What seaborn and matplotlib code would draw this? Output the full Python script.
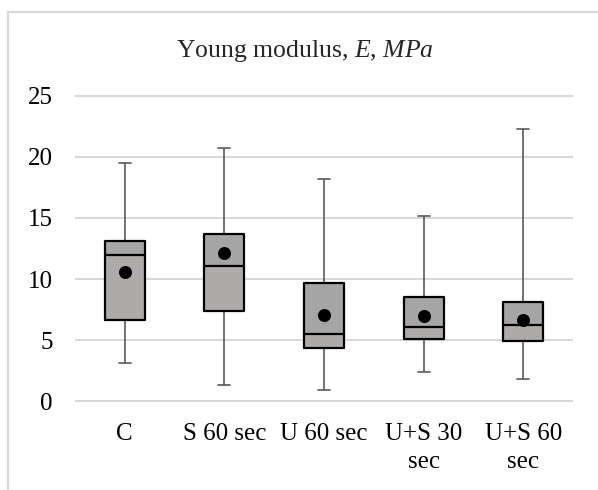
import numpy as np
import pandas as pd
import seaborn as sns
import matplotlib
matplotlib.use("Agg")
import matplotlib.pyplot as plt
from matplotlib.patches import Rectangle

categories = ["C", "S 60 sec", "U 60 sec", "U+S 30 sec", "U+S 60 sec"]
tick_labels = ["C", "S 60 sec", "U 60 sec", "U+S 30\nsec", "U+S 60\nsec"]
mins = [3.15, 1.33, 0.92, 2.37, 1.8]
q1s = [6.6, 7.38, 4.36, 5.12, 4.88]
medians = [12.0, 11.05, 5.5, 6.1, 6.24]
q3s = [13.1, 13.7, 9.64, 8.52, 8.09]
maxs = [19.5, 20.7, 18.2, 15.2, 22.3]
means = [10.57, 12.15, 7.03, 6.97, 6.64]
yticks = [0, 5, 10, 15, 20, 25]

sns.set_theme(style="white")
plt.rcParams["font.family"] = ["Liberation Serif", "DejaVu Serif"]
plt.rcParams["mathtext.fontset"] = "custom"
plt.rcParams["mathtext.rm"] = "Liberation Serif"
plt.rcParams["mathtext.it"] = "Liberation Serif:italic"

# five-number summaries as raw points -> exact quartiles with whis=(0,100)
rows = []
for c, a, b, m, d, e in zip(categories, mins, q1s, medians, q3s, maxs):
    for v in (a, b, m, d, e):
        rows.append({"group": c, "value": v})
df = pd.DataFrame(rows)
df["group"] = pd.Categorical(df["group"], categories=categories, ordered=True)

fig = plt.figure(figsize=(5.98, 4.90), dpi=100)
ax = fig.add_axes([75 / 598, 1 - 402 / 490, 498 / 598, 307 / 490])

x = np.arange(len(categories))
width = 0.4
# two-tone box fills (Excel style)
ax.bar(x, np.array(q3s) - np.array(medians), bottom=medians, width=width,
       color="#a5a5a5", zorder=1.5, linewidth=0)
ax.bar(x, np.array(medians) - np.array(q1s), bottom=q1s, width=width,
       color="#aeaaaa", zorder=1.5, linewidth=0)

sns.boxplot(data=df, x="group", y="value", whis=(0, 100), width=width,
            fill=False, ax=ax, linewidth=1.5,
            boxprops=dict(color="black", linewidth=1.6, zorder=2),
            medianprops=dict(color="black", linewidth=1.6, zorder=2.1),
            whiskerprops=dict(color="#5a5a5a", linewidth=1.2, zorder=1.2),
            capprops=dict(color="#5a5a5a", linewidth=1.2),
            capwidths=0.12, showfliers=False)

sns.scatterplot(x=x, y=means, color="black", s=88, ax=ax, zorder=3,
                edgecolor="black", linewidth=0)

ax.set_ylim(-0.08, 25.08)
ax.set_xlim(-0.5, len(categories) - 0.5)
ax.set_yticks(yticks)
ax.set_yticklabels([str(t) for t in yticks])
ax.set_xticks(x)
ax.set_xticklabels(tick_labels)
for lab in ax.get_xticklabels():
    lab.set_linespacing(1.36)
    lab.set_verticalalignment("top")
ax.tick_params(axis="both", length=0, labelsize=18, colors="black")
ax.tick_params(axis="x", pad=15)
ax.tick_params(axis="y", pad=16)
ax.set_xlabel("")
ax.set_ylabel("")
for s in ax.spines.values():
    s.set_visible(False)
ax.yaxis.grid(True, color="#d9d9d9", linewidth=1.5)
ax.xaxis.grid(False)
ax.set_axisbelow(True)

fig.text(305 / 598, 1 - 57 / 490, r"Young modulus, $\mathit{E}$, $\mathit{MPa}$",
         ha="center", va="baseline", fontsize=18.5)

fig.patches.append(Rectangle((7.5 / 598, -0.2), 1.2, 1.2 - 11.7 / 490,
                             transform=fig.transFigure, fill=False,
                             edgecolor="#d9d9d9", linewidth=1.6))

fig.savefig("out.png", dpi=100)
